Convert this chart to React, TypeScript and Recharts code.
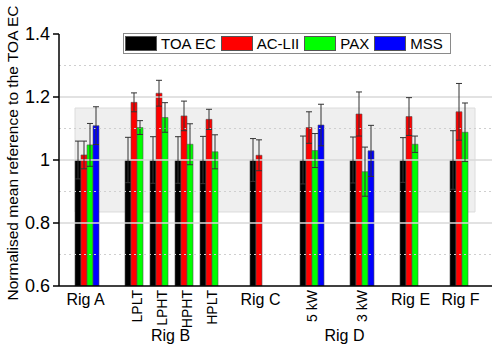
import { Bar, BarChart, ErrorBar, ReferenceArea, ReferenceLine, XAxis, YAxis } from 'recharts';

const FONT = '"Liberation Sans", Arial, sans-serif';

// one slot per bar group, gaps are empty slots
const groups = ['Rig A', 'gap1', 'LPLT', 'LPHT', 'HPHT', 'HPLT', 'gap2', 'Rig C', 'gap3', '5 kW', 'gap4', '3 kW', 'gap5', 'Rig E', 'gap6', 'Rig F'];

const toaEc = [1, null, 1, 1, 1, 1, null, 1, null, 1, null, 1, null, 1, null, 1];
const toaEcErr = [0.06, null, 0.072, 0.074, 0.074, 0.075, null, 0.068, null, 0.076, null, 0.073, null, 0.071, null, 0.093];
const acLii = [1.016, null, 1.183, 1.212, 1.14, 1.129, null, 1.015, null, 1.103, null, 1.146, null, 1.138, null, 1.153];
const acLiiErr = [0.044, null, 0.03, 0.041, 0.047, 0.032, null, 0.049, null, 0.05, null, 0.07, null, 0.06, null, 0.09];
const pax = [1.048, null, 1.103, 1.135, 1.05, 1.026, null, null, null, 1.03, null, 0.963, null, 1.05, null, 1.088];
const paxErr = [0.068, null, 0.022, 0.047, 0.065, 0.054, null, null, null, 0.054, null, 0.078, null, 0.026, null, 0.093];
const mss = [1.109, null, null, null, null, null, null, null, null, 1.111, null, 1.029, null, null, null, null];
const mssErr = [0.06, null, null, null, null, null, null, null, null, 0.066, null, 0.081, null, null, null, null];

const yTicks = [0.6, 0.8, 1, 1.2, 1.4];
const solidGrid = [0.8, 1, 1.2];
const dashedGrid = [0.7, 0.9, 1.1, 1.3];
const band = [0.835, 1.165];

const verticalLabels = ['LPLT', 'LPHT', 'HPHT', 'HPLT', '5 kW', '3 kW'];
const rigLabels: Record<string, { text: string; dx: number }> = {
  LPHT: { text: 'Rig B', dx: 8 },
  '5 kW': { text: 'Rig D', dx: 32 },
};

const series = [
  { key: 'toaEc', err: 'toaEcErr', name: 'TOA EC', color: '#000000' },
  { key: 'acLii', err: 'acLiiErr', name: 'AC-LII', color: '#ff0000' },
  { key: 'pax', err: 'paxErr', name: 'PAX', color: '#00ff00' },
  { key: 'mss', err: 'mssErr', name: 'MSS', color: '#0000ff' },
];

const data = groups.map((g, i) => ({
  group: g,
  toaEc: toaEc[i],
  toaEcErr: toaEcErr[i],
  acLii: acLii[i],
  acLiiErr: acLiiErr[i],
  pax: pax[i],
  paxErr: paxErr[i],
  mss: mss[i],
  mssErr: mssErr[i],
}));

const AXIS_Y = 286;

function XTick(props: any) {
  const { x, payload } = props;
  const name: string = payload.value;
  if (name.startsWith('gap')) return null;
  const rig = rigLabels[name];
  if (verticalLabels.includes(name)) {
    const bx = x + 4;
    return (
      <g>
        <text
          x={bx}
          y={AXIS_Y + 4}
          transform={`rotate(-90, ${bx}, ${AXIS_Y + 4})`}
          textAnchor="end"
          fontSize={14}
          fontFamily={FONT}
          fill="#000"
        >
          {name}
        </text>
        {rig && (
          <text x={x + rig.dx} y={AXIS_Y + 55} textAnchor="middle" fontSize={16} fontFamily={FONT} fill="#000">
            {rig.text}
          </text>
        )}
      </g>
    );
  }
  return (
    <text x={x - 2} y={AXIS_Y + 19} textAnchor="middle" fontSize={16} fontFamily={FONT} fill="#000">
      {name}
    </text>
  );
}

function YTitle() {
  return (
    <text
      x={18}
      y={153}
      transform="rotate(-90, 18, 153)"
      textAnchor="middle"
      fontSize={15.5}
      fontFamily={FONT}
      fill="#000"
    >
      Normalised mean reference to the TOA EC
    </text>
  );
}

export default function App() {
  return (
    <div style={{ position: 'absolute', left: 0, top: 0, width: 500, height: 349, background: '#fff' }}>
      <BarChart
        width={500}
        height={349}
        data={data}
        margin={{ top: 34, right: 8, bottom: 8, left: 0 }}
        barCategoryGap={0}
        barGap={0}
      >
        <ReferenceArea y1={band[0]} y2={band[1]} fill="#efefef" fillOpacity={1} stroke="#dcdcdc" />
        {dashedGrid.map((v) => (
          <ReferenceLine key={`d${v}`} y={v} stroke="#cfcfcf" strokeDasharray="2 3" />
        ))}
        {solidGrid.map((v) => (
          <ReferenceLine key={`s${v}`} y={v} stroke="#d8d8d8" strokeWidth={1.5} />
        ))}
        <XAxis
          dataKey="group"
          height={55}
          padding={{ left: 16, right: 17 }}
          interval={0}
          tickLine={false}
          axisLine={{ stroke: '#000', strokeWidth: 1.5 }}
          tick={<XTick />}
        />
        <YAxis
          width={59}
          domain={[0.6, 1.4]}
          ticks={yTicks}
          allowDataOverflow
          tickFormatter={(v: number) => (v === 1 ? '1' : String(v))}
          tickSize={6}
          tickMargin={3}
          axisLine={{ stroke: '#000', strokeWidth: 1.5 }}
          tickLine={{ stroke: '#000', strokeWidth: 1.5 }}
          tick={{ fill: '#000', fontSize: 18, fontFamily: FONT }}
          label={<YTitle />}
        />
        {series.map((s) => (
          <Bar key={s.key} dataKey={s.key} fill={s.color} stroke="#555" strokeWidth={0.6} isAnimationActive={false}>
            <ErrorBar dataKey={s.err} width={3} stroke="#333" strokeWidth={1} direction="y" />
          </Bar>
        ))}
      </BarChart>
      <div
        style={{
          position: 'absolute',
          left: 123,
          top: 33,
          width: 326,
          height: 19,
          border: '1px solid #8a8a8a',
          background: '#fff',
          display: 'flex',
          alignItems: 'center',
          fontFamily: FONT,
          fontSize: 15,
          color: '#000',
        }}
      >
        {series.map((s, i) => (
          <div key={s.key} style={{ display: 'flex', alignItems: 'center', marginLeft: i === 0 ? 1 : 5 }}>
            <div style={{ width: 32, height: 15, background: s.color, border: '0.5px solid #555', boxSizing: 'border-box' }} />
            <span style={{ marginLeft: 4, lineHeight: '15px' }}>{s.name}</span>
          </div>
        ))}
      </div>
    </div>
  );
}
